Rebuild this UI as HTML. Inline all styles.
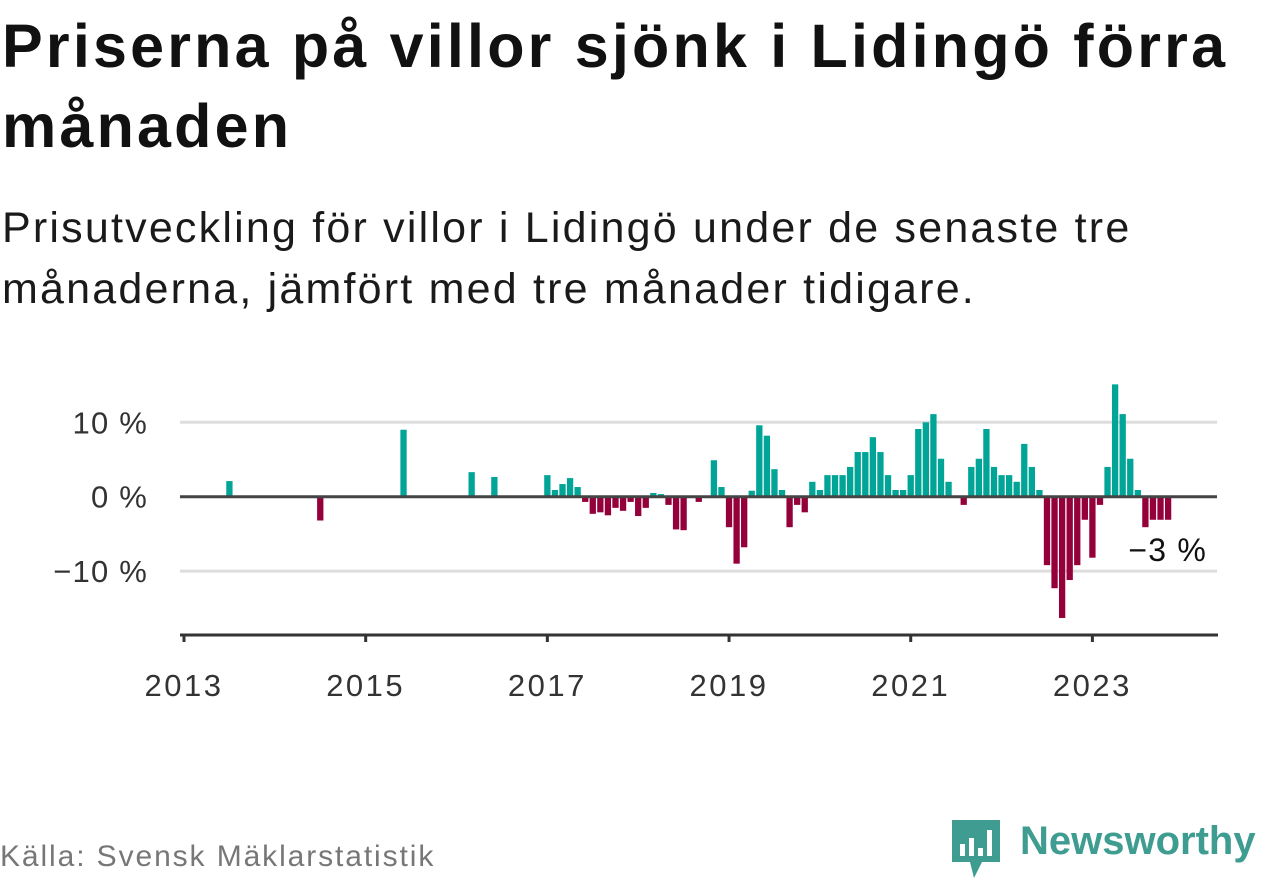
<!DOCTYPE html>
<html><head><meta charset="utf-8">
<style>
body{margin:0;width:1262px;height:879px;background:#fff;font-family:"Liberation Sans","DejaVu Sans",sans-serif;overflow:hidden;position:relative}
h1{position:absolute;left:2px;top:6px;margin:0;font-size:61px;line-height:80px;font-weight:bold;color:#111;width:1262px;letter-spacing:3.2px;white-space:nowrap}
.sub{position:absolute;left:2px;top:198px;font-size:43px;line-height:61px;color:#1a1a1a;width:1262px;letter-spacing:2.2px;white-space:nowrap}
.src{position:absolute;left:0;top:840px;font-size:30px;color:#777;letter-spacing:1.9px;white-space:nowrap}
.logo{position:absolute;left:952px;top:820px}
.logotext{position:absolute;left:1020px;top:819px;font-size:40px;font-weight:bold;color:#3e9d90;white-space:nowrap}
</style></head><body>
<h1>Priserna på villor sjönk i Lidingö förra<br>månaden</h1>
<div class="sub">Prisutveckling för villor i Lidingö under de senaste tre<br>månaderna, jämfört med tre månader tidigare.</div>
<svg id="chart" width="1262" height="879" style="position:absolute;left:0;top:0"></svg>
<div class="src">Källa: Svensk Mäklarstatistik</div>
<svg class="logo" width="50" height="60" viewBox="0 0 50 60">
<path d="M0 0H48V42H30L22 58L18 42H0Z" fill="#3e9d90"/>
<rect x="8" y="24" width="5" height="12" fill="#fff"/><rect x="17" y="18" width="5" height="18" fill="#fff"/><rect x="26" y="28" width="5" height="8" fill="#fff"/><rect x="35" y="10" width="5" height="26" fill="#fff"/>
</svg>
<div class="logotext">Newsworthy</div>
<script>
const startYear = 2013;
const values = [0,0,0,0,0,0,2.1,0,0,0,0,0,
0,0,0,0,0,0,-3.2,0,0,0,0,0,
0,0,0,0,0,9.0,0,0,0,0,0,0,
0,0,3.3,0,0,2.65,0,0,0,0,0,0,
2.9,0.9,1.7,2.5,1.3,-0.7,-2.3,-2.1,-2.5,-1.5,-1.9,-0.7,
-2.6,-1.5,0.5,0.35,-1.1,-4.4,-4.5,0,-0.7,0,4.9,1.3,
-4.1,-9.0,-6.8,0.8,9.6,8.2,3.7,0.9,-4.1,-1.1,-2.1,2.0,
0.9,2.9,2.9,2.9,4.0,6.0,6.0,8.0,6.0,2.9,0.9,0.9,
2.9,9.1,10.0,11.1,5.1,2.0,0,-1.1,4.0,5.1,9.1,4.0,
2.9,2.9,2.0,7.1,4.0,0.9,-9.2,-12.3,-16.3,-11.2,-9.2,-3.1,
-8.2,-1.1,4.0,15.1,11.1,5.1,0.9,-4.1,-3.1,-3.1,-3.1];
const yTicks = [10,0,-10];
const yTickLabels = ["10 %","0 %","−10 %"];
const xTickYears = [2013,2015,2017,2019,2021,2023];
const lastLabel = "−3 %";

const svg = document.getElementById('chart');
const NS = 'http://www.w3.org/2000/svg';
const x0 = 184, pxPerMonth = 7.57, y0 = 496.7, pxPerPct = 7.44;
const xScale = m => x0 + m*pxPerMonth;
const yScale = v => y0 - v*pxPerPct;
function mk(tag, attrs){const e=document.createElementNS(NS,tag);for(const k in attrs)e.setAttribute(k,attrs[k]);svg.appendChild(e);return e;}

yTicks.forEach((t,i)=>{
  if(t!==0){const g=mk('line',{x1:180,x2:1217,y1:yScale(t),y2:yScale(t),stroke:'#ddd','stroke-width':3});
  
  }
  const l=mk('text',{x:148,y:yScale(t)+11,'text-anchor':'end','font-size':31,'letter-spacing':1.2,fill:'#333','font-family':'Liberation Sans, sans-serif'});
  l.textContent=yTickLabels[i];
  
  
});
values.forEach((v,m)=>{
  if(v===0)return;
  const cx=xScale(m), w=6.3;
  const b=mk('rect',{x:cx-w/2,y:Math.min(yScale(v),y0),width:w,height:Math.abs(yScale(v)-y0),fill:v>0?'#00a598':'#94003a'});
  
  
});
const zl=mk('line',{x1:180,x2:1217,y1:y0,y2:y0,stroke:'#444','stroke-width':3});


const ax=mk('line',{x1:180,x2:1218,y1:635,y2:635,stroke:'#333','stroke-width':3});


xTickYears.forEach(yr=>{
  const x=xScale((yr-startYear)*12);
  const t=mk('line',{x1:x,x2:x,y1:635,y2:642,stroke:'#333','stroke-width':3});
  
  
  const l=mk('text',{x:x,y:696,'text-anchor':'middle','font-size':31,'letter-spacing':2.5,fill:'#333','font-family':'Liberation Sans, sans-serif'});
  l.textContent=yr;
  
  
});
const ll=mk('text',{x:1207,y:561,'text-anchor':'end','font-size':32,'letter-spacing':1.2,fill:'#111','font-family':'Liberation Sans, sans-serif'});
ll.textContent=lastLabel;


</script>
</body></html>
